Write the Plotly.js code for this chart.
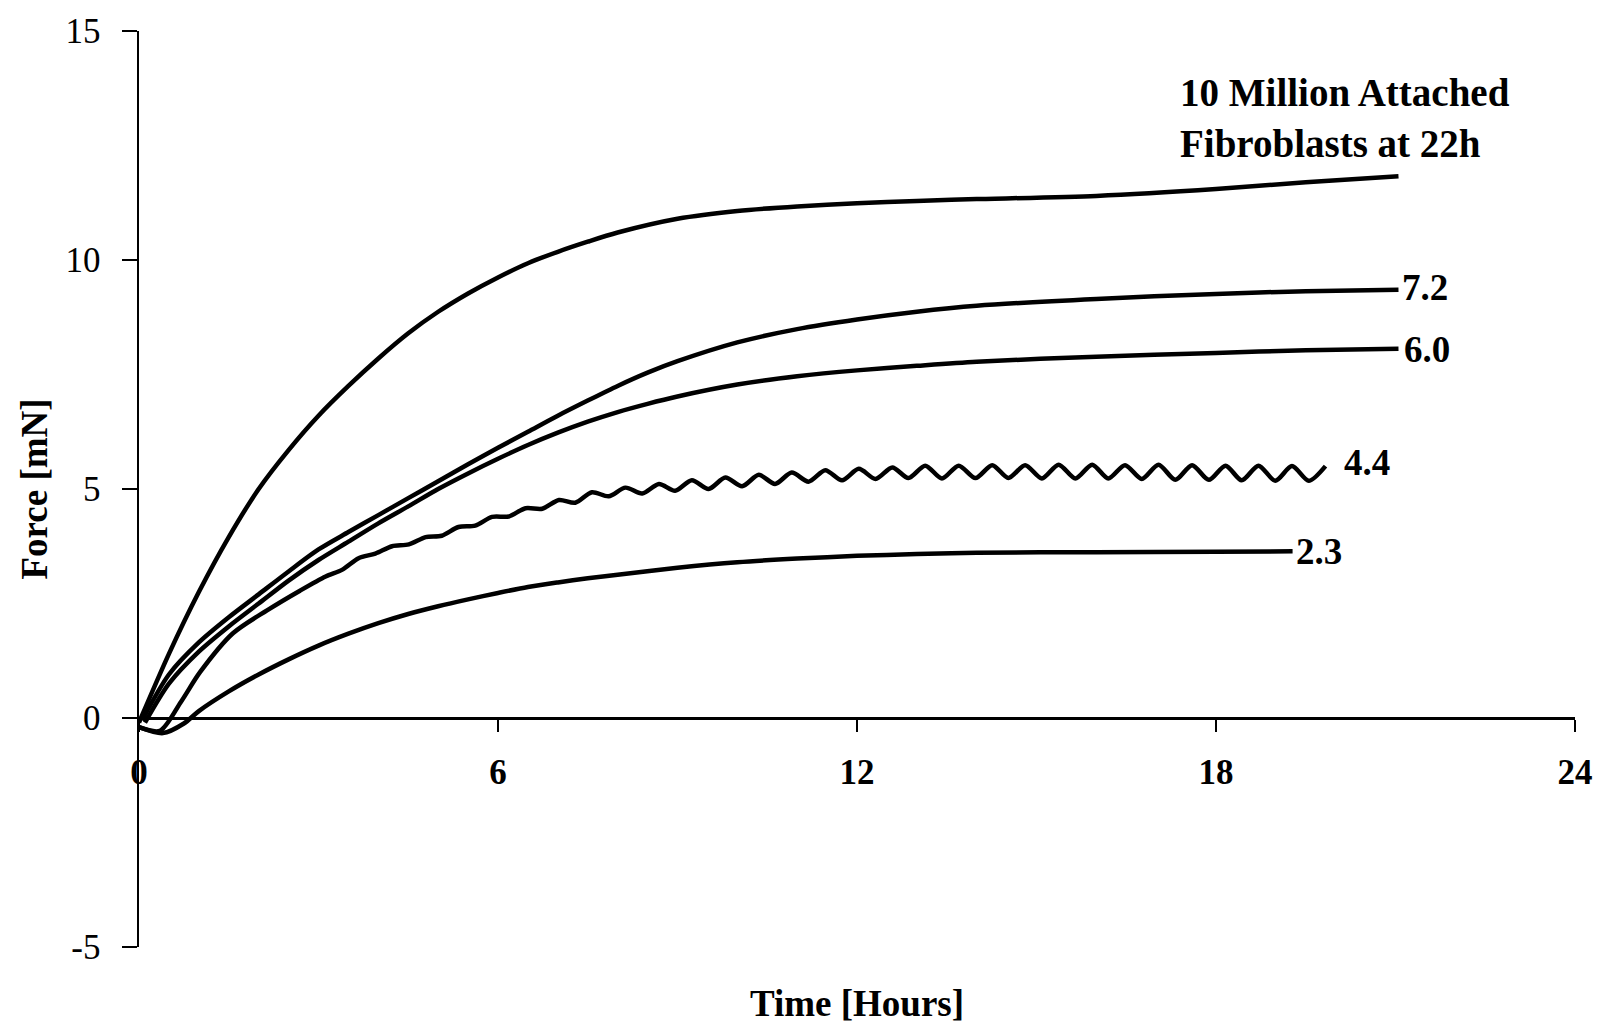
<!DOCTYPE html>
<html>
<head>
<meta charset="utf-8">
<script src="https://cdn.plot.ly/plotly-3.0.1.min.js"></script>
<style>html,body{margin:0;padding:0;background:#fff;}#chart{width:1609px;height:1024px;}</style>
</head>
<body>
<div id="chart"></div>
<script>
// Time [Hours] and Force [mN]
const x10M = [0, 0.5, 1, 1.5, 2, 2.5, 3, 3.5, 4, 4.5, 5, 5.5, 6, 6.5, 7, 7.5, 8, 9, 10, 11, 12, 13, 14, 16, 18, 19.5, 21.05];
const y10M = [-0.1, 1.4, 2.75, 3.95, 5.0, 5.85, 6.6, 7.25, 7.85, 8.4, 8.87, 9.27, 9.62, 9.93, 10.18, 10.4, 10.6, 10.9, 11.07, 11.17, 11.24, 11.29, 11.33, 11.4, 11.55, 11.7, 11.83];

const x72 = [0.05, 0.5, 1, 1.5, 2, 2.5, 3, 3.5, 4, 4.5, 5, 5.5, 6, 6.5, 7, 7.5, 8, 8.5, 9, 10, 11, 12, 13, 14, 16, 18, 19.5, 21.05];
const y72 = [-0.05, 0.95, 1.65, 2.2, 2.7, 3.2, 3.68, 4.06, 4.43, 4.8, 5.17, 5.54, 5.9, 6.25, 6.6, 6.93, 7.25, 7.54, 7.79, 8.2, 8.49, 8.7, 8.87, 9.0, 9.15, 9.26, 9.32, 9.35];

const x60 = [0.1, 0.5, 1, 1.5, 2, 2.5, 3, 3.5, 4, 4.5, 5, 5.5, 6, 6.5, 7, 7.5, 8, 8.5, 9, 10, 11, 12, 13, 14, 16, 18, 19.5, 21.05];
const y60 = [-0.1, 0.75, 1.45, 2.0, 2.5, 3.0, 3.45, 3.85, 4.25, 4.62, 5.0, 5.34, 5.66, 5.96, 6.23, 6.47, 6.68, 6.86, 7.02, 7.28, 7.46, 7.59, 7.69, 7.78, 7.89, 7.97, 8.03, 8.06];

const x44 = [0, 0.35, 0.7, 1.02, 1.57, 2.14, 2.69,
  3.12, 3.40, 3.67, 3.95, 4.23, 4.51, 4.79, 5.06, 5.34, 5.62, 5.90, 6.18, 6.46, 6.74,
  7.02, 7.29, 7.57, 7.85, 8.13, 8.41, 8.69, 8.96, 9.24, 9.52, 9.80, 10.08, 10.36, 10.63,
  10.91, 11.19, 11.47, 11.75, 12.03, 12.31, 12.59, 12.86, 13.14, 13.42, 13.70, 13.98,
  14.26, 14.53, 14.81, 15.09, 15.37, 15.65, 15.93, 16.20, 16.48, 16.76, 17.04, 17.32,
  17.60, 17.88, 18.16, 18.43, 18.71, 18.99, 19.27, 19.55, 19.83];
const y44 = [-0.2, -0.28, 0.35, 1.0, 1.85, 2.35, 2.78,
  3.09, 3.24, 3.49, 3.59, 3.75, 3.79, 3.95, 3.98, 4.17, 4.20, 4.39, 4.40, 4.58, 4.57,
  4.76, 4.70, 4.93, 4.84, 5.03, 4.90, 5.11, 4.96, 5.19, 5.00, 5.25, 5.06, 5.31, 5.11,
  5.36, 5.16, 5.41, 5.19, 5.44, 5.22, 5.47, 5.24, 5.51, 5.23, 5.51, 5.24,
  5.52, 5.24, 5.52, 5.23, 5.53, 5.23, 5.53, 5.23, 5.52, 5.22, 5.53, 5.20,
  5.52, 5.20, 5.51, 5.19, 5.51, 5.18, 5.50, 5.18, 5.50];

const x23 = [0, 0.4, 0.75, 1.0, 1.5, 2, 2.5, 3, 3.5, 4, 4.5, 5, 5.5, 6, 6.5, 7, 7.5, 8, 9, 10, 11, 12, 13, 14, 16, 18, 19.28];
const y23 = [-0.2, -0.33, -0.12, 0.15, 0.58, 0.95, 1.28, 1.58, 1.84, 2.07, 2.27, 2.44, 2.59, 2.73, 2.86, 2.96, 3.05, 3.13, 3.28, 3.4, 3.48, 3.54, 3.58, 3.61, 3.62, 3.63, 3.64];

const labelText = ['10 Million Attached<br>Fibroblasts at 22h', '7.2', '6.0', '4.4', '2.3'];
const labelX = [17.36, 21.08, 21.11, 20.1, 19.3];
const labelY = [13.1, 9.41, 8.04, 5.58, 3.64];
const labelSize = [39, 37, 37, 37, 37];

const xTicks = [0, 6, 12, 18, 24];
const yTicks = [-5, 0, 5, 10, 15];

const FONT = 'Liberation Serif, Times New Roman, serif';
const lineStyle = {color: '#000', width: 4.5, shape: 'spline', smoothing: 0.8};

const series = [[x10M, y10M], [x72, y72], [x60, y60], [x44, y44], [x23, y23]];
const traces = series.map(s => ({
  x: s[0], y: s[1], type: 'scatter', mode: 'lines', line: lineStyle, hoverinfo: 'skip', showlegend: false
}));

const annotations = labelText.map((t, i) => ({
  x: labelX[i], y: labelY[i], xref: 'x', yref: 'y', text: t, showarrow: false,
  xanchor: 'left', yanchor: 'middle', align: 'left',
  font: {family: FONT, size: labelSize[i], color: '#000', weight: 'bold'}
}));

const layout = {
  width: 1609, height: 1024,
  margin: {l: 139, r: 34, t: 31, b: 77},
  paper_bgcolor: '#fff', plot_bgcolor: '#fff',
  showlegend: false,
  font: {family: FONT, color: '#000'},
  xaxis: {
    range: [0, 24], tickvals: xTicks, ticktext: xTicks.map(String),
    anchor: 'free', position: 0.25,
    showline: true, linecolor: '#000', linewidth: 2.5,
    ticks: 'outside', ticklen: 12, tickwidth: 2, tickcolor: '#000',
    showgrid: false, zeroline: false,
    ticklabelstandoff: 10,
    tickfont: {family: FONT, size: 35, color: '#000', weight: 'bold'},
    title: {text: 'Time [Hours]', font: {family: FONT, size: 37, color: '#000', weight: 'bold'}, standoff: 210},
    automargin: false
  },
  yaxis: {
    range: [-5, 15], tickvals: yTicks, ticktext: yTicks.map(String),
    showline: true, linecolor: '#000', linewidth: 2.5,
    ticks: 'outside', ticklen: 15, tickwidth: 2, tickcolor: '#000',
    showgrid: false, zeroline: false,
    ticklabelstandoff: 14,
    tickfont: {family: FONT, size: 35, color: '#000'},
    title: {text: 'Force [mN]', font: {family: FONT, size: 37, color: '#000', weight: 'bold'}, standoff: 7},
    automargin: false
  },
  annotations: annotations
};

Plotly.newPlot('chart', traces, layout, {staticPlot: true, displayModeBar: false});
</script>
</body>
</html>
